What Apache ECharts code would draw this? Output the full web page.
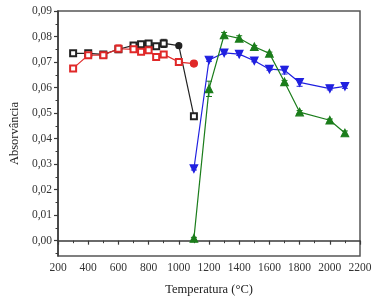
<!DOCTYPE html>
<html>
<head>
<meta charset="utf-8">
<script src="https://cdn.jsdelivr.net/npm/echarts@6/dist/echarts.min.js"></script>
<style>
  html, body { margin: 0; background: #fff; }
  #chart { width: 376px; height: 301px; }
</style>
</head>
<body>
<div id="chart"></div>
<script>
// data
const tempsLow = [300, 400, 500, 600, 700, 750, 800, 850, 900, 1000, 1100];
const blackVals = [0.0734, 0.0734, 0.0730, 0.0750, 0.0765, 0.0770, 0.0773, 0.0762, 0.0773, 0.0764, 0.0488];
const blackErr = [0.0006, 0.0005, 0.0005, 0.0007, 0.0007, 0.0008, 0.0008, 0.0008, 0.0016, 0.0004, 0.0008];
const redVals = [0.0675, 0.0727, 0.0727, 0.0752, 0.0750, 0.0740, 0.0746, 0.0720, 0.0730, 0.0700, 0.0694];
const redErr = [0.0010, 0.0006, 0.0005, 0.0015, 0.0008, 0.0007, 0.0006, 0.0012, 0.0008, 0.0010, 0.0003];

const tempsHigh = [1100, 1200, 1300, 1400, 1500, 1600, 1700, 1800, 2000, 2100];
const blueVals = [0.0282, 0.0708, 0.0736, 0.0731, 0.0705, 0.0672, 0.0668, 0.0620, 0.0596, 0.0605];
const blueErr = [0.0005, 0.0005, 0.0005, 0.0005, 0.0004, 0.0004, 0.0015, 0.0015, 0.0005, 0.0008];
const greenVals = [0.0009, 0.0595, 0.0806, 0.0793, 0.0760, 0.0734, 0.0622, 0.0504, 0.0472, 0.0422];
const greenErr = [0.0004, 0.0030, 0.0010, 0.0010, 0.0005, 0.0005, 0.0006, 0.0006, 0.0005, 0.0008];

const yTicks = [0, 0.01, 0.02, 0.03, 0.04, 0.05, 0.06, 0.07, 0.08, 0.09];
const yMinorTicks = [-0.005, 0.005, 0.015, 0.025, 0.035, 0.045, 0.055, 0.065, 0.075, 0.085];

const serif = 'Liberation Serif';
const axisColor = '#3a3a3a';

const pairs = (xs, ys) => xs.map((x, i) => [x, ys[i]]);
const errData = (xs, ys, es) => xs.map((x, i) => [x, ys[i], es[i]]);

function errorSeries(xs, ys, es, color) {
  return {
    type: 'custom',
    silent: true,
    z: 3,
    data: errData(xs, ys, es),
    renderItem: (params, api) => {
      const x = api.value(0), y = api.value(1), e = api.value(2);
      const top = api.coord([x, y + e]);
      const bot = api.coord([x, y - e]);
      const w = 3;
      const style = { stroke: color, lineWidth: 1 };
      return {
        type: 'group',
        children: [
          { type: 'line', shape: { x1: top[0], y1: top[1], x2: bot[0], y2: bot[1] }, style },
          { type: 'line', shape: { x1: top[0] - w, y1: top[1], x2: top[0] + w, y2: top[1] }, style },
          { type: 'line', shape: { x1: bot[0] - w, y1: bot[1], x2: bot[0] + w, y2: bot[1] }, style }
        ]
      };
    }
  };
}

function lineSeries(data, color, symbol, size, extra) {
  return Object.assign({
    type: 'line',
    data: data,
    symbol: symbol,
    symbolSize: size,
    z: 4,
    lineStyle: { color: color, width: 1.2 },
    itemStyle: { color: color, borderColor: color, borderWidth: 1.2 }
  }, extra || {});
}

const blackData = pairs(tempsLow, blackVals);
blackData[9] = { value: blackData[9], symbol: 'circle' };
const redData = pairs(tempsLow, redVals);
redData[10] = { value: redData[10], symbol: 'circle', symbolSize: 7 };

const chart = echarts.init(document.getElementById('chart'));
chart.setOption({
  animation: false,
  grid: {
    left: 57, right: 16, top: 11, bottom: 45,
    show: true, borderColor: '#555', borderWidth: 1.5, backgroundColor: 'transparent'
  },
  xAxis: {
    type: 'value',
    min: 200, max: 2200, interval: 200,
    name: 'Temperatura (°C)',
    nameLocation: 'middle',
    nameGap: 27,
    nameTextStyle: { fontFamily: serif, fontSize: 12.5, color: '#222' },
    axisLine: { lineStyle: { color: axisColor, width: 1.5 } },
    axisTick: { length: 4, lineStyle: { color: axisColor, width: 1.2 } },
    minorTick: { show: true, splitNumber: 2, length: 2.5, lineStyle: { color: axisColor, width: 1 } },
    splitLine: { show: false },
    axisLabel: { fontFamily: serif, fontSize: 11.5, color: '#333', margin: 6, formatter: (v) => String(v) }
  },
  yAxis: [{
    type: 'value',
    min: -0.006, max: 0.09,
    name: 'Absorvância',
    nameLocation: 'middle',
    nameGap: 37,
    nameTextStyle: { fontFamily: serif, fontSize: 12.5, color: '#222' },
    axisLine: { show: true, lineStyle: { color: axisColor, width: 1.5 } },
    axisTick: { show: true, length: 4, customValues: yTicks, lineStyle: { color: axisColor, width: 1.2 } },
    splitLine: { show: false },
    axisLabel: {
      customValues: yTicks,
      fontFamily: serif, fontSize: 11.5, color: '#333', margin: 6,
      formatter: (v) => v.toFixed(2).replace('.', ',')
    }
  }, {
    type: 'value',
    position: 'left',
    min: -0.006, max: 0.09,
    axisLine: { show: false },
    axisTick: { show: true, length: 2.5, customValues: yMinorTicks, lineStyle: { color: axisColor, width: 1 } },
    axisLabel: { show: false },
    splitLine: { show: false }
  }],
  series: [
    errorSeries(tempsLow, blackVals, blackErr, '#222'),
    lineSeries(blackData, '#222', 'emptyRect', 6),
    errorSeries(tempsLow, redVals, redErr, '#e02828'),
    lineSeries(redData, '#e02828', 'emptyRect', 6),
    errorSeries(tempsHigh, blueVals, blueErr, '#2020e0'),
    lineSeries(pairs(tempsHigh, blueVals), '#2020e0', 'triangle', 7.5, { symbolRotate: 180 }),
    errorSeries(tempsHigh, greenVals, greenErr, '#1b7d1b'),
    lineSeries(pairs(tempsHigh, greenVals), '#1b7d1b', 'triangle', 7.5)
  ]
});
</script>
</body>
</html>
